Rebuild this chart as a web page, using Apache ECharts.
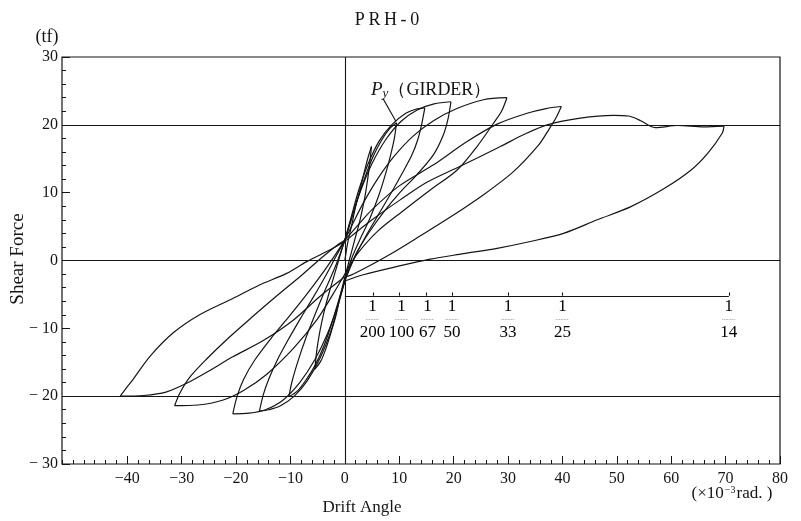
<!DOCTYPE html>
<html><head><meta charset="utf-8">
<script src="https://cdn.jsdelivr.net/npm/echarts@6/dist/echarts.min.js"></script>
<style>html,body{margin:0;padding:0;background:#fff}#c{width:801px;height:521px}</style>
</head><body><div id="c"></div>
<script>
// ---- tick labels ----
const xLabelValues = [-40,-30,-20,-10,0,10,20,30,40,50,60,70,80];
const yLabelValues = [-30,-20,-10,0,10,20,30];
const gridY = [20, 0, -20];
const gridX = [0];

// ---- hysteresis branches [drift angle (x10^-3 rad), shear force (tf)] ----
const pos05Load   = [[0,0],[0.5,2.5],[1.2,5],[2,8],[2.8,10.5],[3.5,12.8],[4.2,15],[4.9,16.8]];
const pos05Unload = [[4.9,16.8],[4.6,14.5],[4.2,12],[3.6,9],[2.8,6],[1.8,3],[0.8,0],[0,-2.5]];
const neg05Load   = [[0,-2.5],[-0.8,-5],[-1.6,-8],[-2.5,-10.5],[-3.4,-12.8],[-4.4,-14.8],[-5.5,-16]];
const neg05Unload = [[-5.5,-16],[-5.2,-13.5],[-4.6,-10.5],[-3.8,-7.5],[-2.8,-4.5],[-1.7,-1.5],[-0.6,1.5],[0,3]];

const pos10Load   = [[0,3],[1,5.5],[2.3,9],[3.8,12.5],[5.3,15.5],[6.8,17.8],[8.2,19.4],[9.5,20.3]];
const pos10Unload = [[9.5,20.3],[9.1,18],[8.4,15.5],[7.5,12.8],[6.2,9.5],[4.6,6.2],[3,3.5],[1.5,0.8],[0.5,-1.5],[0,-3]];
const neg10Load   = [[0,-3],[-1,-5.5],[-2.3,-9],[-3.8,-12.5],[-5.5,-15.5],[-7.3,-17.8],[-8.8,-19.3],[-10.3,-20.1]];
const neg10Unload = [[-10.3,-20.1],[-9.7,-17.8],[-8.6,-14.8],[-7.2,-11.5],[-5.5,-8],[-3.7,-4.5],[-1.8,-1],[-0.5,1.8],[0,3]];

const pos15Load   = [[0,3],[1.2,6.5],[2.6,10.5],[4.3,14.3],[6.3,17.6],[8.6,20],[11.2,21.7],[13,22.3],[14.7,22.5]];
const pos15Unload = [[14.7,22.5],[14.1,20],[13.4,17.8],[12.3,15.5],[10.5,12.8],[8.4,9.8],[6.2,6.8],[4,3.8],[2,0.8],[0.5,-1.8],[0,-3]];
const neg15Load   = [[0,-3],[-1.2,-6.5],[-2.6,-10.5],[-4.5,-14.3],[-6.8,-17.6],[-9.3,-20],[-12,-21.5],[-14,-22],[-15.7,-22.2]];
const neg15Unload = [[-15.7,-22.2],[-15,-19.8],[-14,-17.5],[-12.5,-14.8],[-10.5,-11.8],[-8.2,-8.6],[-5.8,-5.4],[-3.5,-2.2],[-1.5,0.8],[0,3]];

const pos20Load   = [[0,3],[1.3,6.5],[3,10.5],[5,14.3],[7.5,17.8],[10.3,20.5],[13.3,22.2],[16.4,23.1],[19.5,23.4]];
const pos20Unload = [[19.5,23.4],[19,21],[18.1,18.5],[16.3,15.6],[13.2,12.6],[10.1,10],[7.2,7.2],[4.5,4.2],[2.2,1.2],[0.6,-1.8],[0,-3]];
const neg20Load   = [[0,-3],[-1.4,-6.8],[-3.2,-10.8],[-5.5,-14.6],[-8.3,-18],[-11.4,-20.6],[-14.6,-22],[-17.6,-22.5],[-20.6,-22.6]];
const neg20Unload = [[-20.6,-22.6],[-19.8,-20],[-18.6,-17.5],[-16.5,-14.6],[-13.6,-11.5],[-10.5,-8.5],[-7.3,-5.3],[-4.4,-2.2],[-1.8,0.8],[0,3]];

const pos30Load   = [[0,3],[1.5,5.5],[3.4,8.5],[6,12],[9,15.3],[12.5,18.3],[16.3,20.6],[20.6,22.4],[25.5,23.7],[29.8,24]];
const pos30Unload = [[29.8,24],[28.8,22],[27.3,20.2],[24.3,16.8],[20.6,13.3],[15.7,10.4],[10.5,7.2],[6,4.3],[2.5,1.2],[0.5,-1.2],[0,-2]];
const neg30Load   = [[0,-2],[-2.2,-5],[-5.2,-8.8],[-9.5,-13],[-14.4,-16.8],[-18.7,-19.2],[-22.5,-20.6],[-27,-21.3],[-31.3,-21.4]];
const neg30Unload = [[-31.3,-21.4],[-30.3,-19.5],[-28.6,-17.3],[-25.5,-14.6],[-21.5,-11.5],[-17,-8.3],[-12.5,-5.2],[-8,-2.2],[-4,0.6],[-1,2.5],[0,3]];

const pos40Load   = [[0,3],[2.5,5.3],[5,7.5],[10,11],[16.3,14.1],[22.4,17.5],[28,20.1],[33.5,21.7],[37,22.4],[39.8,22.7]];
const pos40Unload = [[39.8,22.7],[38.8,21],[37.5,19.3],[35.6,17],[31,13.1],[25.5,9.7],[19.4,6.4],[13.8,3.6],[8.5,1],[4,-1],[1,-2.2],[0,-2.4]];
const neg40Load   = [[0,-2.4],[-4.6,-5.3],[-9.5,-8.8],[-15,-11.8],[-20.6,-14.2],[-25,-16.3],[-28.6,-17.9],[-32.9,-19.4],[-37,-19.9],[-41.3,-20]];
const neg40Unload = [[-41.3,-20],[-40.2,-18.8],[-39,-17.6],[-35.9,-14.2],[-31.6,-10.7],[-26.7,-8],[-20.6,-5.6],[-15.7,-3.6],[-10.7,-1.9],[-7.1,-0.2],[-2.2,1.8],[0.3,3]];

const pos70Load   = [[0.3,3],[5,6],[10.1,8.9],[15,11.5],[21.2,13.9],[28.6,16.8],[33,18.6],[37.2,20],[43.3,21],[49.4,21.4],[52.2,21.3],[54.4,20.6],[56.2,19.8],[57.1,19.6],[61.2,19.9],[66,19.7],[69.7,19.8]];
const pos70Unload = [[69.7,19.8],[69.4,18.8],[66.7,15.8],[63.6,13.3],[58.7,10.6],[52.5,7.9],[46.4,6],[40.2,4],[34.1,2.8],[28,1.8],[21.8,1],[15.7,0.2],[9.5,-0.9],[3.4,-2.1],[-0.3,-3.1]];

const branches = [pos05Load,pos05Unload,neg05Load,neg05Unload,pos10Load,pos10Unload,neg10Load,neg10Unload,
  pos15Load,pos15Unload,neg15Load,neg15Unload,pos20Load,pos20Unload,neg20Load,neg20Unload,
  pos30Load,pos30Unload,neg30Load,neg30Unload,pos40Load,pos40Unload,neg40Load,neg40Unload,pos70Load,pos70Unload];

// ---- drift ratio scale (1/200 ... 1/14) ----
const scaleLevel = -5.2;
const scaleTicks = [5.2, 10, 15, 19.7, 30, 40, 70.6];
const scaleDenoms = ['200','100','67','50','33','25','14'];
const scaleDenomX = [5.1, 10.4, 15.2, 19.7, 30, 40, 70.6];

// ---- Py (GIRDER) pointer ----
const pyPointer = [[7.0, 23.9], [9.4, 20.5]];

const FONT = '"Liberation Serif", "DejaVu Serif", serif';
const INK = '#151515';

const fmt = v => v < 0 ? '\u2212' + (-v) : String(v);

const series = branches.map((b, i) => ({
  type: 'line', data: b, smooth: 0.3, showSymbol: false, silent: true,
  lineStyle: { color: INK, width: 1.2 }, z: 3,
  markLine: i === 0 ? {
    silent: true, symbol: 'none', label: { show: false }, animation: false,
    lineStyle: { color: INK, type: 'solid', width: 1.1 },
    data: gridY.map(v => ({ yAxis: v })).concat(gridX.map(v => ({ xAxis: v })))
  } : undefined
}));

// scale line + ticks + fraction bars
const scaleSegs = [{ coords: [[0, scaleLevel], [scaleTicks[scaleTicks.length - 1], scaleLevel]] }]
  .concat(scaleTicks.map(t => ({ coords: [[t, scaleLevel], [t, scaleLevel + 0.5]] })));
series.push({ type: 'lines', coordinateSystem: 'cartesian2d', silent: true, z: 4,
  lineStyle: { color: INK, width: 1.1, opacity: 1 }, data: scaleSegs });
series.push({ type: 'lines', coordinateSystem: 'cartesian2d', silent: true, z: 4,
  lineStyle: { color: '#888', width: 0.8, type: 'dotted', opacity: 1 },
  data: scaleDenomX.map(t => ({ coords: [[t - 1.2, scaleLevel - 3.5], [t + 1.2, scaleLevel - 3.5]] })) });
series.push({ type: 'lines', coordinateSystem: 'cartesian2d', silent: true, z: 4,
  lineStyle: { color: INK, width: 1.1, opacity: 1 }, data: [{ coords: pyPointer }] });
series.push({ type: 'scatter', symbolSize: 0, silent: true, z: 5, itemStyle: { opacity: 1 },
  data: scaleDenomX.map(x => ({ value: [x, scaleLevel - 1.65], name: '1' })),
  label: { show: true, position: 'inside', formatter: '{b}', color: '#000', fontFamily: FONT, fontSize: 17 } });
series.push({ type: 'scatter', symbolSize: 0, silent: true, z: 5, itemStyle: { opacity: 1 },
  data: scaleDenomX.map((x, i) => ({ value: [x, scaleLevel - 5.4], name: scaleDenoms[i] })),
  label: { show: true, position: 'inside', formatter: '{b}', color: '#000', fontFamily: FONT, fontSize: 17 } });

const chart = echarts.init(document.getElementById('c'), null, { renderer: 'canvas' });
chart.setOption({
  animation: false,
  backgroundColor: '#fff',
  grid: { left: 62, right: 21, top: 57, bottom: 57, show: true, borderColor: INK, borderWidth: 1.2, containLabel: false },
  xAxis: [
    { type: 'value', min: -52, max: 80, interval: 2, position: 'bottom',
      axisLine: { show: false, onZero: false }, splitLine: { show: false },
      axisTick: { inside: true, length: 4, lineStyle: { color: INK } },
      axisLabel: { formatter: v => xLabelValues.indexOf(v) >= 0 ? fmt(v) : '', color: INK, fontFamily: FONT, fontSize: 16, margin: 7 } },
    { type: 'value', min: -52, max: 80, position: 'bottom',
      axisLine: { show: false, onZero: false }, splitLine: { show: false }, axisLabel: { show: false },
      axisTick: { inside: true, length: 8, customValues: xLabelValues, lineStyle: { color: INK } } }
  ],
  yAxis: [
    { type: 'value', min: -30, max: 30, interval: 2, position: 'left',
      axisLine: { show: false, onZero: false }, splitLine: { show: false },
      axisTick: { inside: true, length: 4, lineStyle: { color: INK } },
      axisLabel: { formatter: v => yLabelValues.indexOf(v) >= 0 ? (v < 0 ? '\u2212 ' + (-v) : String(v)) : '', color: INK, fontFamily: FONT, fontSize: 16, margin: 4 } },
    { type: 'value', min: -30, max: 30, interval: 10, position: 'left',
      axisLine: { show: false, onZero: false }, splitLine: { show: false }, axisLabel: { show: false },
      axisTick: { inside: true, length: 8, lineStyle: { color: INK } } }
  ],
  series: series,
  graphic: [
    { type: 'text', x: 387, y: 20, style: { text: 'P\u2009R\u2009H\u2009-\u20090', font: '18px ' + FONT, fill: INK, align: 'center', verticalAlign: 'middle' } },
    { type: 'text', x: 47, y: 37, style: { text: '(tf)', font: '18px ' + FONT, fill: INK, align: 'center', verticalAlign: 'middle' } },
    { type: 'text', x: 18, y: 259, rotation: Math.PI / 2, style: { text: 'Shear Force', font: '19px ' + FONT, fill: INK, align: 'center', verticalAlign: 'middle' } },
    { type: 'text', x: 362, y: 508, style: { text: 'Drift Angle', font: '17px ' + FONT, fill: INK, align: 'center', verticalAlign: 'middle' } },
    { type: 'text', x: 732, y: 494, style: {
        text: '(\u00d710{s|\u22123}rad. )', font: '17px ' + FONT, fill: INK, align: 'center', verticalAlign: 'middle',
        rich: { s: { fontSize: 10, fontFamily: FONT, verticalAlign: 'top', padding: [0, 1, 8, 1], fill: INK } } } },
    { type: 'text', x: 371, y: 90, style: {
        text: '{p|P}{y|y}{g|（GIRDER）}', fill: INK, align: 'left', verticalAlign: 'middle',
        rich: {
          p: { fontFamily: FONT, fontStyle: 'italic', fontSize: 19, fill: INK },
          y: { fontFamily: FONT, fontStyle: 'italic', fontSize: 13, fill: INK, padding: [8, 0, 0, 0] },
          g: { fontFamily: FONT, fontSize: 18, fill: INK }
        } } }
  ]
});
</script></body></html>
